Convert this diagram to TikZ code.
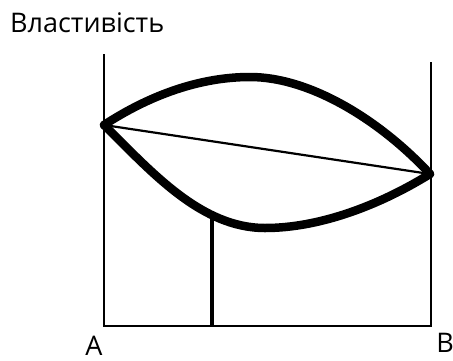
\documentclass[tikz,border=0pt]{standalone}
\usepackage{fontspec}
\setmainfont{Open Sans}
\usetikzlibrary{positioning}
\begin{document}
\begin{tikzpicture}[x=1pt, y=-1pt,
  axis/.style={draw=black, line width=1.6pt},
  crv/.style={draw=black, line width=8.5pt, line cap=round, line join=round},
  chord/.style={draw=black, line width=2.2pt},
  drop/.style={draw=black, line width=3.2pt},
  lbl/.style={font=\fontsize{27}{30}\selectfont, inner sep=0pt}
]
\useasboundingbox (0,0) rectangle (453,360);

% Frame
\coordinate (lt) at (104,54);
\coordinate (rt) at (431,62);
\coordinate (lb) at (104,326);
\coordinate (rb) at (431,326);
\draw[axis] (lt) -- (lb) -- (rb) -- (rt);

% End points
\coordinate (pa) at (104,125);
\coordinate (pb) at (430,174);

% Curves
\draw[crv] (pa) .. controls (150,95) and (200,77) .. (250,77)
  .. controls (310,77) and (380,120) .. (pb);
\draw[crv] (pa) .. controls (150,170) and (200,228) .. (265,228)
  .. controls (320,228) and (380,205) .. (pb);
\draw[chord] (pa) -- (pb);

% Drop line
\coordinate (dt) at (212,215);
\coordinate (db) at (212,326);
\draw[drop] (dt) -- (db);

% Labels
\node[lbl, anchor=base west] (title) at (10,32) {Властивість};
\node[lbl, anchor=base] (la) at (94,355) {A};
\node[lbl, anchor=base] (lb2) at (445,352) {B};
\end{tikzpicture}
\end{document}
